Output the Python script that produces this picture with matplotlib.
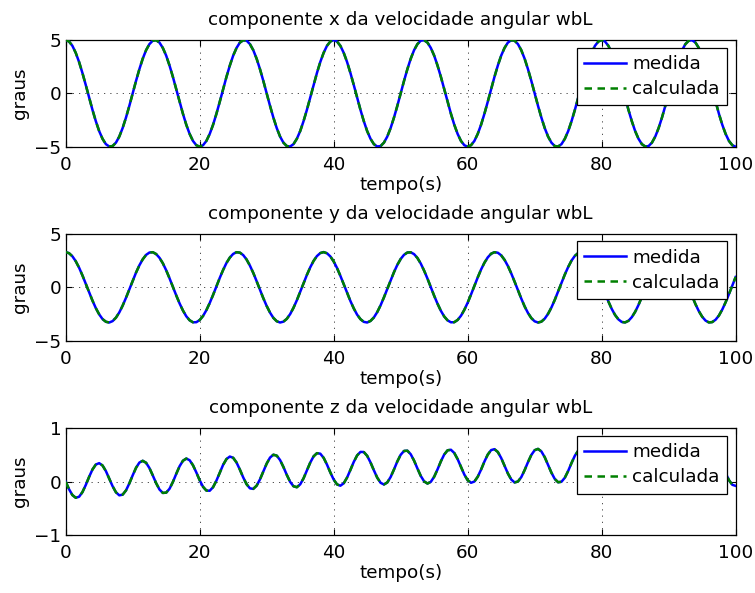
import numpy as np
import matplotlib
matplotlib.use("Agg")
import matplotlib.pyplot as plt

# ---------------- data ----------------
titles = ["componente x da velocidade angular wbL",
          "componente y da velocidade angular wbL",
          "componente z da velocidade angular wbL"]
series_labels = ["medida", "calculada"]
x_ticks = [0, 20, 40, 60, 80, 100]
y_ticks_xy = [-5, 0, 5]
y_ticks_z = [-1, 0, 1]

# x component, sampled every 0.5 s
x_medida = [
    5.00, 4.86, 4.46, 3.80, 2.94, 1.91, 0.78, -0.39, -1.55, -2.61, -3.54, -4.26, -4.76, -4.98, -4.94, -4.62, -4.05, -3.25, -2.27, -1.17, 0.00, 1.17, 2.27, 3.25, 4.05, 4.62, 4.94,
    4.98, 4.76, 4.26, 3.54, 2.61, 1.55, 0.39, -0.78, -1.91, -2.94, -3.80, -4.46, -4.86, -5.00, -4.86, -4.46, -3.80, -2.94, -1.91, -0.78, 0.39, 1.55, 2.61, 3.54, 4.26, 4.76, 4.98,
    4.94, 4.62, 4.05, 3.25, 2.27, 1.17, 0.00, -1.17, -2.27, -3.25, -4.05, -4.62, -4.94, -4.98, -4.76, -4.26, -3.54, -2.61, -1.55, -0.39, 0.78, 1.91, 2.94, 3.80, 4.46, 4.86,
    5.00, 4.86, 4.46, 3.80, 2.94, 1.91, 0.78, -0.39, -1.55, -2.61, -3.54, -4.26, -4.76, -4.98, -4.94, -4.62, -4.05, -3.25, -2.27, -1.17, 0.00, 1.17, 2.27, 3.25, 4.05, 4.62, 4.94,
    4.98, 4.76, 4.26, 3.54, 2.61, 1.55, 0.39, -0.78, -1.91, -2.94, -3.80, -4.46, -4.86, -5.00, -4.86, -4.46, -3.80, -2.94, -1.91, -0.78, 0.39, 1.55, 2.61, 3.54, 4.26, 4.76, 4.98,
    4.94, 4.62, 4.05, 3.25, 2.27, 1.17, 0.00, -1.17, -2.27, -3.25, -4.05, -4.62, -4.94, -4.98, -4.76, -4.26, -3.54, -2.61, -1.55, -0.39, 0.78, 1.91, 2.94, 3.80, 4.46, 4.86,
    5.00, 4.86, 4.46, 3.80, 2.94, 1.91, 0.78, -0.39, -1.55, -2.61, -3.54, -4.26, -4.76, -4.98, -4.94, -4.62, -4.05, -3.25, -2.27, -1.17, 0.00, 1.17, 2.27, 3.25, 4.05, 4.62, 4.94,
    4.98, 4.76, 4.26, 3.54, 2.61, 1.55, 0.39, -0.78, -1.91, -2.94, -3.80, -4.46, -4.86, -5.00,
]
x_calculada = list(x_medida)

# y component, sampled every 0.5 s
y_medida = [
    3.28, 3.18, 2.89, 2.43, 1.83, 1.11, 0.33, -0.47, -1.24, -1.94,
    -2.52, -2.96, -3.21, -3.28, -3.15, -2.83, -2.34, -1.71, -0.98, -0.19,
    0.61, 1.37, 2.05, 2.61, 3.02, 3.24, 3.27, 3.10, 2.75, 2.24,
    1.59, 0.84, 0.05, -0.75, -1.50, -2.16, -2.70, -3.07, -3.26, -3.25,
    -3.05, -2.67, -2.13, -1.46, -0.71, 0.09, 0.88, 1.62, 2.27, 2.77,
    3.11, 3.27, 3.23, 3.00, 2.59, 2.02, 1.34, 0.57, -0.23, -1.02,
    -1.74, -2.36, -2.85, -3.16, -3.28, -3.20, -2.94, -2.50, -1.91, -1.21,
    -0.43, 0.37, 1.15, 1.86, 2.46, 2.91, 3.19, 3.28, 3.17, 2.88,
    2.41, 1.80, 1.07, 0.29, -0.51, -1.28, -1.97, -2.55, -2.97, -3.22,
    -3.28, -3.13, -2.81, -2.31, -1.68, -0.94, -0.15, 0.65, 1.41, 2.09,
    2.64, 3.03, 3.24, 3.26, 3.09, 2.73, 2.21, 1.55, 0.81, 0.01,
    -0.79, -1.53, -2.19, -2.72, -3.08, -3.26, -3.25, -3.04, -2.65, -2.10,
    -1.43, -0.67, 0.13, 0.92, 1.66, 2.29, 2.79, 3.13, 3.27, 3.22,
    2.98, 2.56, 1.99, 1.30, 0.53, -0.27, -1.05, -1.78, -2.39, -2.87,
    -3.17, -3.28, -3.20, -2.92, -2.47, -1.88, -1.17, -0.39, 0.41, 1.19,
    1.89, 2.49, 2.93, 3.20, 3.28, 3.16, 2.86, 2.38, 1.76, 1.04,
    0.25, -0.55, -1.32, -2.01, -2.58, -2.99, -3.23, -3.27, -3.12, -2.78,
    -2.28, -1.64, -0.90, -0.11, 0.69, 1.44, 2.12, 2.66, 3.05, 3.25,
    3.26, 3.08, 2.71, 2.18, 1.52, 0.77, -0.03, -0.82, -1.57, -2.22,
    -2.74, -3.10, -3.27, -3.24, -3.02, -2.63, -2.07, -1.39, -0.63, 0.17,
    0.96,
]
y_calculada = list(y_medida)

# z component, sampled every 0.5 s
z_medida = [
    0.000, -0.142, -0.251, -0.302, -0.283, -0.196, -0.062, 0.091, 0.229, 0.321, 0.347, 0.303, 0.199,
    0.059, -0.085, -0.199, -0.256, -0.244, -0.164, -0.033, 0.119, 0.260, 0.358, 0.391, 0.354, 0.255,
    0.117, -0.028, -0.147, -0.211, -0.206, -0.133, -0.006, 0.146, 0.289, 0.392, 0.433, 0.402, 0.308,
    0.173, 0.026, -0.096, -0.167, -0.170, -0.103, 0.020, 0.170, 0.316, 0.424, 0.471, 0.447, 0.359,
    0.226, 0.079, -0.048, -0.125, -0.135, -0.075, 0.043, 0.191, 0.339, 0.451, 0.505, 0.488, 0.405,
    0.275, 0.128, -0.003, -0.086, -0.104, -0.051, 0.062, 0.208, 0.357, 0.474, 0.534, 0.525, 0.447,
    0.320, 0.173, 0.039, -0.051, -0.076, -0.030, 0.077, 0.221, 0.371, 0.492, 0.558, 0.555, 0.484,
    0.360, 0.213, 0.075, -0.021, -0.053, -0.015, 0.087, 0.228, 0.379, 0.504, 0.576, 0.580, 0.514,
    0.394, 0.247, 0.107, 0.005, -0.035, -0.003, 0.092, 0.230, 0.381, 0.509, 0.588, 0.598, 0.538,
    0.422, 0.276, 0.133, 0.026, -0.021, 0.002, 0.092, 0.226, 0.377, 0.508, 0.592, 0.609, 0.556,
    0.444, 0.299, 0.154, 0.041, -0.014, 0.002, 0.085, 0.216, 0.366, 0.501, 0.590, 0.614, 0.567,
    0.459, 0.316, 0.168, 0.051, -0.011, -0.002, 0.074, 0.201, 0.350, 0.487, 0.581, 0.611, 0.570,
    0.467, 0.326, 0.177, 0.054, -0.014, -0.014, 0.056, 0.178, 0.326, 0.465, 0.565, 0.601, 0.567,
    0.469, 0.329, 0.179, 0.052, -0.023, -0.030, 0.032, 0.150, 0.296, 0.437, 0.541, 0.585, 0.557,
    0.464, 0.327, 0.176, 0.044, -0.038, -0.052, 0.004, 0.116, 0.261, 0.403, 0.512, 0.562, 0.540,
    0.453, 0.318, 0.161, 0.028, -0.059, -0.079,
]
z_calculada = list(z_medida)

# ---------------- styling ----------------
plt.rcParams['font.family'] = ['DejaVu Sans']
FS = 13.2

fig = plt.figure(figsize=(7.55, 5.93), dpi=100)
fig.patch.set_facecolor('white')

left, width = 0.0870, 0.8874
positions = [
    [left, 0.7526, width, 0.1799],
    [left, 0.4250, width, 0.1810],
    [left, 0.0978, width, 0.1799],
]
panels = [
    (x_medida, x_calculada, (-5, 5), y_ticks_xy),
    (y_medida, y_calculada, (-5, 5), y_ticks_xy),
    (z_medida, z_calculada, (-1, 1), y_ticks_z),
]

for pos, title, (med, calc, ylim, yt) in zip(positions, titles, panels):
    ax = fig.add_axes(pos)
    t_med = np.linspace(0, 100, len(med))
    t_calc = np.linspace(0, 100, len(calc))
    ax.plot(t_med, med, color='#0000ff', lw=1.8, label=series_labels[0], zorder=3)
    ax.plot(t_calc, calc, color='#008000', lw=1.8, dashes=(3, 2.2),
            label=series_labels[1], zorder=4)
    ax.set_xlim(0, 100)
    ax.set_ylim(*ylim)
    ax.set_xticks(x_ticks)
    ax.set_yticks(yt)
    ax.grid(True, color='0.2', lw=0.6, linestyle=(0, (1.5, 6)))
    ax.tick_params(direction='in', top=True, right=True, length=4, width=0.8,
                   labelsize=FS)
    ax.tick_params(axis='x', pad=6.5)
    ax.tick_params(axis='y', pad=3)
    for sp in ax.spines.values():
        sp.set_linewidth(0.9)
        sp.set_color('k')
    ax.set_title(title, fontsize=FS, pad=10.8)
    ax.set_xlabel('tempo(s)', fontsize=FS, labelpad=1.5)
    ax.set_ylabel('graus', fontsize=FS)
    leg = ax.legend(loc='upper right', bbox_to_anchor=(0.9866, 0.928),
                    borderaxespad=0, fontsize=FS, frameon=True, fancybox=False,
                    edgecolor='k', framealpha=1, handlelength=2.3,
                    handletextpad=0.3, borderpad=0.4, labelspacing=0.38)
    leg.get_frame().set_linewidth(0.9)
    leg.set_zorder(10)

fig.savefig('out.png', dpi=100)
